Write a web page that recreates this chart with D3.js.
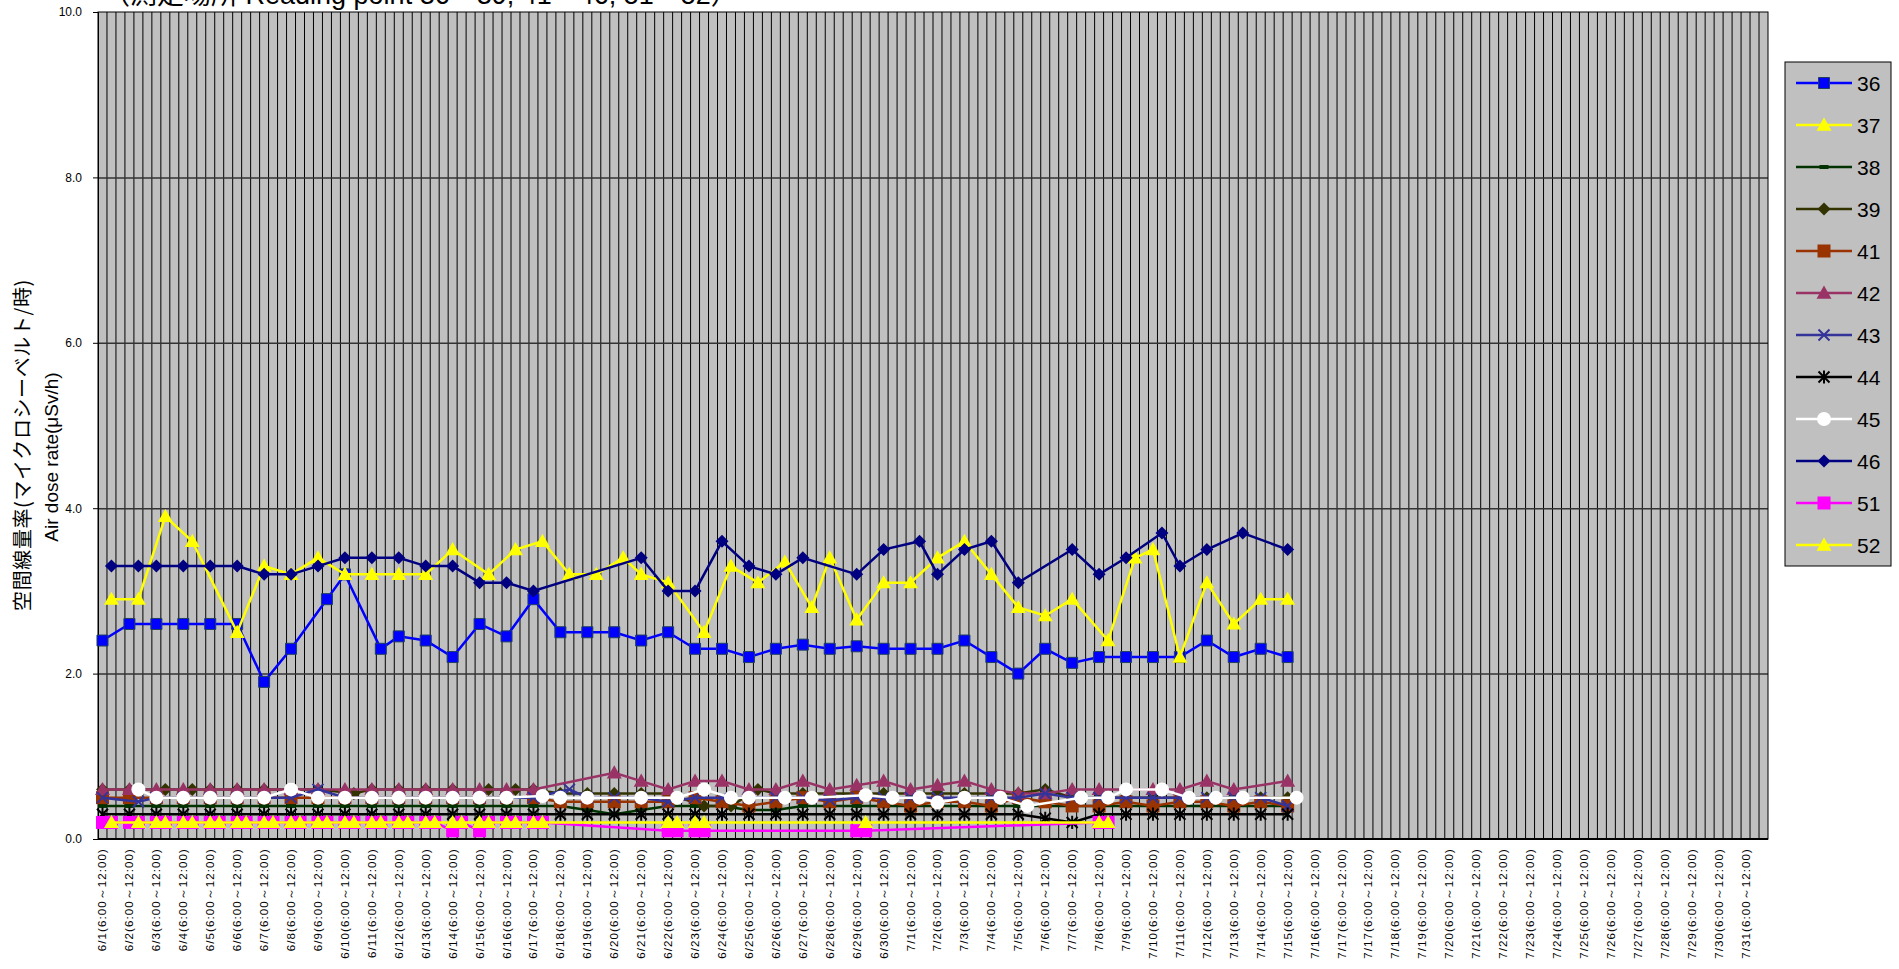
<!DOCTYPE html>
<html>
<head>
<meta charset="utf-8">
<script src="https://cdn.jsdelivr.net/npm/d3@7"></script>
<style>
  body { margin: 0; background: #fff; }
  svg { display: block; }
</style>
</head>
<body>
<script>
// Dates on the category axis (one label per 3 rows; 7/17 appears twice in the source sheet)
var dayLabels = ["6/1","6/2","6/3","6/4","6/5","6/6","6/7","6/8","6/9","6/10",
  "6/11","6/12","6/13","6/14","6/15","6/16","6/17","6/18","6/19","6/20",
  "6/21","6/22","6/23","6/24","6/25","6/26","6/27","6/28","6/29","6/30",
  "7/1","7/2","7/3","7/4","7/5","7/6","7/7","7/8","7/9","7/10",
  "7/11","7/12","7/13","7/14","7/15","7/16","7/17","7/17","7/18","7/19","7/20",
  "7/21","7/22","7/23","7/24","7/25","7/26","7/27","7/28","7/29","7/30","7/31"];
var timeSlot = "(6:00～12:00)";
var rowsPerDay = 3;
var rowCount = 186;

var yTicks = [0, 2, 4, 6, 8, 10];

// Readings per day from 6/1 (null = no reading). "Late" lists days whose reading sits in the 2nd row of the day.
var s36 = [2.4,2.6,2.6,2.6,2.6,2.6,1.9,2.3,2.9,3.2, 2.3,2.45,2.4,2.2,2.6,2.45,2.9,2.5,2.5,2.5,
  2.4,2.5,2.3,2.3,2.2,2.3,2.35,2.3,2.33,2.3, 2.3,2.3,2.4,2.2,2.0,2.3,2.13,2.2,2.2,2.2, 2.2,2.4,2.2,2.3,2.2];
var s36Late = [8, 10];

var s37 = [2.9,2.9,3.9,3.6,null,2.5,3.3,3.2,3.4,3.2, 3.2,3.2,3.2,3.5,3.2,3.5,3.6,3.2,3.2,3.4,
  3.2,3.1,2.5,3.3,3.1,3.35,2.8,3.4,2.65,3.1, 3.1,3.4,3.6,3.2,2.8,2.7,2.9,2.4,3.4,3.5, 2.2,3.1,2.6,2.9,2.9];
var s37Late = [0,1,2,3,14,15,16,17,18,19,22,23,24,25,26,37,38];

var s38 = [0.4,0.4,0.4,0.4,0.4,0.4,0.4,0.4,0.4,0.4, 0.4,0.4,0.4,0.4,0.4,0.4,0.4,0.4,0.35,0.3,
  0.35,0.4,0.4,0.4,0.35,0.35,0.4,0.4,0.4,0.4, 0.4,0.4,0.4,0.4,0.4,0.4,0.4,0.4,0.4,0.4, 0.4,0.4,0.4,0.4,0.4];
var s38Late = [];

var s39 = [0.6,0.6,0.6,0.6,0.6,0.6,0.6,0.6,0.6,0.55, 0.6,0.6,0.6,0.6,0.6,0.6,0.6,0.55,0.55,0.55,
  0.55,0.55,0.4,0.4,0.6,0.55,0.55,0.55,0.55,0.55, 0.55,0.55,0.55,0.55,0.55,0.6,0.5,0.5,0.5,0.5, 0.5,0.5,0.5,0.5,0.5];
var s39Late = [2,3,9,14,15,22,23,24];

var s41 = [0.5,0.5,0.5,0.5,0.5,0.5,0.5,0.5,0.5,0.5, 0.5,0.5,0.5,0.5,0.5,0.5,0.5,0.45,0.45,0.45,
  0.45,0.45,0.5,0.45,0.4,0.45,0.5,0.45,0.5,0.45, 0.4,0.45,0.45,0.4,0.5,0.45,0.4,0.4,0.45,0.4, 0.45,0.45,0.4,0.45,0.4];
var s41Late = [];

var s42 = [0.6,0.6,0.6,0.6,0.6,0.6,0.6,0.6,0.6,0.6, 0.6,0.6,0.6,0.6,0.6,0.6,0.6,null,null,0.8,
  0.7,0.6,0.7,0.7,0.6,0.6,0.7,0.6,0.65,0.7, 0.6,0.65,0.7,0.6,0.55,0.55,0.6,0.6,null,0.6, 0.6,0.7,0.6,null,0.7];
var s42Late = [];

var s43 = [0.5,0.45,0.5,0.5,0.5,0.5,0.5,0.5,0.6,0.5, 0.5,0.5,0.5,0.5,0.5,0.5,0.5,0.6,0.5,0.5,
  0.5,0.45,0.5,0.5,0.5,0.5,0.5,0.47,0.5,0.5, 0.5,0.5,0.5,0.5,0.5,0.55,0.5,0.5,0.5,0.5, 0.5,0.5,0.5,0.5,0.4];
var s43Late = [1, 17];

var s44 = [0.3,0.3,0.3,0.3,0.3,0.3,0.3,0.3,0.3,0.3, 0.3,0.3,0.3,0.3,0.3,0.3,0.3,0.3,0.3,0.3,
  0.3,0.3,0.3,0.3,0.3,0.3,0.3,0.3,0.3,0.3, 0.3,0.3,0.3,0.3,0.3,0.25,0.2,0.3,0.3,0.3, 0.3,0.3,0.3,0.3,0.3];
var s44Late = [];

var s45 = [null,0.6,0.5,0.5,0.5,0.5,0.5,0.6,0.5,0.5, 0.5,0.5,0.5,0.5,0.5,0.5,0.52,0.5,0.5,null,
  0.5,0.5,0.6,0.5,0.5,0.5,0.5,null,0.53,0.5, 0.5,0.44,0.5,0.5,0.4,null,0.5,0.5,0.6,0.6, 0.5,0.5,0.5,null,0.5];
var s45Late = [1,16,21,22,23,25,26,28,29,30,33,34,36,37,39,40,41,42,44];

var s46 = [3.3,3.3,3.3,3.3,3.3,3.3,3.2,3.2,3.3,3.4, 3.4,3.4,3.3,3.3,3.1,3.1,3.0,null,null,null,
  3.4,3.0,3.0,3.6,3.3,3.2,3.4,null,3.2,3.5, 3.6,3.2,3.5,3.6,3.1,null,3.5,3.2,3.4,3.7, 3.3,3.5,3.7,null,3.5];
var s46Late = [0, 1, 30, 39, 42];

// 51 and 52 often have two readings a day: first row and second row
var s51 = [0.2,0.2,0.2,0.2,0.2,0.2,0.2,0.2,0.2,0.2, 0.2,0.2,0.2,0.1,0.1,0.2,0.2,null,null,null,
  null,0.1,0.1,null,null,null,null,null,0.1,null, null,null,null,null,null,null,null,0.2];
var s51Second = [0.2,0.2,0.2,0.2,0.2,0.2,0.2,0.2,0.2,0.2, 0.2,0.2,0.2,0.2,0.2,0.2,0.2,null,null,null,
  null,0.1,0.1,null,null,null,null,null,0.1,null, null,null,null,null,null,null,null,0.2];
var s52 = [null,null,0.2,0.2,0.2,0.2,0.2,0.2,0.2,0.2, 0.2,0.2,0.2,0.2,0.2,0.2,0.2,null,null,null,
  null,0.2,0.2,null,null,null,null,null,null,null, null,null,null,null,null,null,null,0.2];
var s52Second = [0.2,0.2,0.2,0.2,0.2,0.2,0.2,0.2,0.2,0.2, 0.2,0.2,0.2,0.2,0.2,0.2,0.2,null,null,null,
  null,0.2,0.2,null,null,null,null,null,0.2,null, null,null,null,null,null,null,null,0.2];

// Series styling table, built from the arrays above
var seriesList = [
  {name: "36", first: s36, late: s36Late, color: "#0000ff", marker: "square", size: 11, fill: "#0000ff", edge: "#1f3f5f"},
  {name: "37", first: s37, late: s37Late, color: "#ffff00", marker: "triangle", size: 15, fill: "#ffff00"},
  {name: "38", first: s38, late: s38Late, color: "#003300", marker: "dash", size: 9, fill: "#003300"},
  {name: "39", first: s39, late: s39Late, color: "#333300", marker: "diamond", size: 13, fill: "#333300"},
  {name: "41", first: s41, late: s41Late, color: "#993300", marker: "square", size: 13, fill: "#993300"},
  {name: "42", first: s42, late: s42Late, color: "#993366", marker: "triangle", size: 15, fill: "#993366"},
  {name: "43", first: s43, late: s43Late, color: "#333399", marker: "x", size: 11, fill: "none"},
  {name: "44", first: s44, late: s44Late, color: "#000000", marker: "star", size: 11, fill: "none"},
  {name: "45", first: s45, late: s45Late, color: "#ffffff", marker: "circle", size: 14, fill: "#ffffff"},
  {name: "46", first: s46, late: s46Late, color: "#000080", marker: "diamond", size: 13, fill: "#000080"},
  {name: "51", first: s51, late: [], second: s51Second, color: "#ff00ff", marker: "square", size: 13, fill: "#ff00ff"},
  {name: "52", first: s52, late: [], second: s52Second, color: "#ffff00", marker: "triangle", size: 15, fill: "#ffff00"}
];

// Define SVG area and plot box
var svgWidth = 1899;
var svgHeight = 969;
var plot = {left: 98, right: 1768, top: 12, bottom: 839};

var svg = d3.select("body")
            .append("svg")
            .attr("width", svgWidth)
            .attr("height", svgHeight);

var x = d3.scaleLinear().domain([0, rowCount]).range([plot.left, plot.right]);
var y = d3.scaleLinear().domain([0, 10]).range([plot.bottom, plot.top]);

// title (its lower part shows at the top edge)
svg.append("text")
   .attr("x", 103)
   .attr("y", 4)
   .style("font-family", "'Liberation Sans', 'Noto Sans CJK JP', sans-serif")
   .style("font-size", "27px")
   .text("（測定場所 Reading point 36～39, 41～46, 51～52）");

// plot background
svg.append("rect")
   .attr("x", plot.left).attr("y", plot.top)
   .attr("width", plot.right - plot.left)
   .attr("height", plot.bottom - plot.top)
   .attr("fill", "#c0c0c0");

// vertical grid: one line per row
svg.append("g").selectAll("line")
   .data(d3.range(1, rowCount))
   .enter().append("line")
   .attr("x1", d => x(d)).attr("x2", d => x(d))
   .attr("y1", plot.top).attr("y2", plot.bottom)
   .attr("stroke", "#000")
   .attr("stroke-width", 1);

// horizontal grid
svg.append("g")
   .attr("transform", `translate(${plot.left},0)`)
   .call(d3.axisLeft(y).tickValues(yTicks.slice(1, -1)).tickSize(-(plot.right - plot.left)).tickFormat(""))
   .call(g => g.select(".domain").remove())
   .selectAll("line").attr("stroke", "#333").attr("stroke-width", 1.5);

// plot border
svg.append("rect")
   .attr("x", plot.left).attr("y", plot.top)
   .attr("width", plot.right - plot.left)
   .attr("height", plot.bottom - plot.top)
   .attr("fill", "none").attr("stroke", "#000").attr("stroke-width", 1);

// y axis
var yAxis = svg.append("g")
   .attr("transform", `translate(${plot.left},0)`)
   .call(d3.axisLeft(y).tickValues(yTicks).tickSize(5).tickPadding(11).tickFormat(d3.format(".1f")));
yAxis.select(".domain").attr("stroke", "#000");
yAxis.selectAll("text")
     .style("font-family", "'Liberation Sans', Arial, sans-serif")
     .style("font-size", "12px")
     .attr("fill", "#000");

// x axis line
svg.append("line")
   .attr("x1", plot.left).attr("x2", plot.right)
   .attr("y1", plot.bottom).attr("y2", plot.bottom)
   .attr("stroke", "#000").attr("stroke-width", 2);

// x labels, one per 3 rows, rotated
svg.append("g").selectAll("text")
   .data(dayLabels)
   .enter().append("text")
   .attr("transform", (d, i) => `translate(${x(i * rowsPerDay + 0.5) + 4},848) rotate(-90)`)
   .attr("text-anchor", "end")
   .style("font-family", "'Liberation Sans', Arial, sans-serif")
   .style("font-size", "11.5px")
   .style("letter-spacing", "1.1px")
   .text(d => d + timeSlot);

// y axis titles
svg.append("text")
   .attr("transform", "translate(30,445) rotate(-90)")
   .attr("text-anchor", "middle")
   .style("font-family", "'Noto Sans CJK JP', sans-serif")
   .style("font-size", "20px")
   .style("letter-spacing", "0.6px")
   .text("空間線量率(マイクロシーベルト/時)");
svg.append("text")
   .attr("transform", "translate(58,457) rotate(-90)")
   .attr("text-anchor", "middle")
   .style("font-family", "'Liberation Sans', Arial, sans-serif")
   .style("font-size", "19px")
   .text("Air dose rate(μSv/h)");

// marker shapes
function markerPath(type, s) {
  var h = s / 2;
  if (type === "square") return `M${-h},${-h}H${h}V${h}H${-h}Z`;
  if (type === "triangle") return `M0,${-h}L${h},${h * 0.75}L${-h},${h * 0.75}Z`;
  if (type === "diamond") return `M0,${-h}L${h},0L0,${h}L${-h},0Z`;
  if (type === "dash") return `M${-h},-2H${h}V2H${-h}Z`;
  if (type === "x") return `M${-h},${-h}L${h},${h}M${-h},${h}L${h},${-h}`;
  if (type === "star") return `M${-h},${-h}L${h},${h}M${-h},${h}L${h},${-h}M0,${-h * 1.2}V${h * 1.2}`;
  return d3.symbol(d3.symbolCircle, Math.PI * h * h)();
}

function drawMarker(sel, s) {
  sel.append("path")
     .attr("d", markerPath(s.marker, s.size))
     .attr("fill", s.fill)
     .attr("stroke", s.fill === "none" ? s.color : (s.edge || "none"))
     .attr("stroke-width", s.fill === "none" ? 2 : 1);
}

// series lines and markers
var line = d3.line().x(p => x(p.row + 0.5)).y(p => y(p.v));

seriesList.forEach(function(s) {
  var pts = [];
  s.first.forEach(function(v, i) {
    if (v != null) pts.push({row: i * rowsPerDay + (s.late.indexOf(i) >= 0 ? 1 : 0), v: v});
  });
  if (s.second) s.second.forEach(function(v, i) {
    if (v != null) pts.push({row: i * rowsPerDay + 1, v: v});
  });
  pts.sort((a, b) => a.row - b.row);

  var g = svg.append("g");
  g.append("path")
   .datum(pts)
   .attr("d", line)
   .attr("fill", "none")
   .attr("stroke", s.color)
   .attr("stroke-width", 2.5);
  g.selectAll("g.pt").data(pts).enter().append("g")
   .attr("transform", p => `translate(${x(p.row + 0.5)},${y(p.v)})`)
   .each(function() { drawMarker(d3.select(this), s); });
});

// legend
var legend = {left: 1785, top: 62, width: 106, height: 504, step: 42};
svg.append("rect")
   .attr("x", legend.left).attr("y", legend.top)
   .attr("width", legend.width).attr("height", legend.height)
   .attr("fill", "#c0c0c0").attr("stroke", "#000").attr("stroke-width", 1);

var items = svg.append("g").selectAll("g")
   .data(seriesList)
   .enter().append("g")
   .attr("transform", (s, i) => `translate(${legend.left},${legend.top + 21 + i * legend.step})`);
items.append("line")
   .attr("x1", 11).attr("x2", 67)
   .attr("stroke", s => s.color).attr("stroke-width", 2.5);
items.append("g")
   .attr("transform", "translate(39,0)")
   .each(function(s) { drawMarker(d3.select(this), s); });
items.append("text")
   .attr("x", 72).attr("dy", "0.36em")
   .style("font-family", "'Liberation Sans', Arial, sans-serif")
   .style("font-size", "21px")
   .text(s => s.name);
</script>
</body>
</html>
